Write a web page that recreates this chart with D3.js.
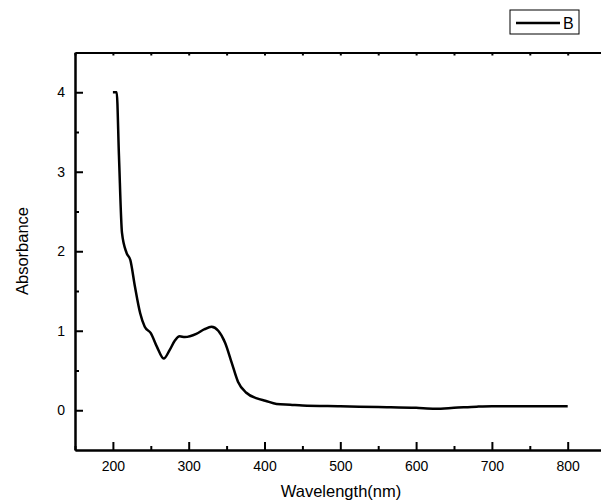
<!DOCTYPE html>
<html>
<head>
<meta charset="utf-8">
<script src="https://cdn.jsdelivr.net/npm/d3@7"></script>
<style>
  body { margin: 0; background: #fff; }
  text { font-family: "Liberation Sans", Arial, sans-serif; }
</style>
</head>
<body>
<svg id="vis1" width="601" height="503"></svg>
<script>
// spectrum
var wavelength = [200, 205, 208, 212, 218, 223, 229, 236, 242, 250, 258, 267, 275, 282, 288, 295, 310, 321, 330, 339, 348, 357, 365, 376, 390, 401, 416, 434, 450, 500, 550, 600, 625, 650, 680, 700, 750, 800];
var absorbance = [4.0, 4.0, 3.2, 2.23, 1.98, 1.89, 1.56, 1.22, 1.05, 0.97, 0.80, 0.65, 0.76, 0.88, 0.93, 0.92, 0.96, 1.02, 1.05, 1.00, 0.85, 0.59, 0.36, 0.22, 0.15, 0.12, 0.08, 0.07, 0.06, 0.05, 0.04, 0.03, 0.02, 0.03, 0.045, 0.05, 0.05, 0.05];

var xTicks = [200, 300, 400, 500, 600, 700, 800];
var xMinor = [150, 250, 350, 450, 550, 650, 750, 850];
var yTicks = [0, 1, 2, 3, 4];
var yMinor = [0.5, 1.5, 2.5, 3.5];
var seriesName = "B";

var svg = d3.select("#vis1");

var x = d3.scaleLinear().domain([150, 850]).range([75, 605.6]);
var y = d3.scaleLinear().domain([-0.5, 4.5]).range([450, 52.5]);

var data = wavelength.map(function(w, i) { return {w: w, a: absorbance[i]}; });

// bottom axis, ticks inward
var bottom = svg.append("g")
    .attr("transform", "translate(0," + y(-0.5) + ")")
    .call(d3.axisBottom(x).tickValues(xTicks).tickSize(-8).tickSizeOuter(0));
bottom.selectAll(".tick text").attr("dy", "0").attr("y", 21);
svg.append("g")
    .attr("transform", "translate(0," + y(-0.5) + ")")
    .call(d3.axisBottom(x).tickValues(xMinor).tickSize(-4).tickFormat("").tickSizeOuter(0));

// top axis, small ticks only
svg.append("g")
    .attr("transform", "translate(0," + y(4.5) + ")")
    .call(d3.axisTop(x).tickValues(xMinor.concat(xTicks)).tickSize(-3).tickFormat("").tickSizeOuter(0));

// left axis
svg.append("g")
    .attr("transform", "translate(" + x(150) + ",0)")
    .call(d3.axisLeft(y).tickValues(yTicks).tickFormat(d3.format("d")).tickSize(-8).tickPadding(10).tickSizeOuter(0));
svg.append("g")
    .attr("transform", "translate(" + x(150) + ",0)")
    .call(d3.axisLeft(y).tickValues(yMinor).tickSize(-4).tickFormat("").tickSizeOuter(0));

svg.selectAll(".domain").attr("stroke", "#000").attr("stroke-width", 2);
svg.selectAll(".tick line").attr("stroke", "#000").attr("stroke-width", 2);
svg.selectAll(".tick text")
    .attr("fill", "#000")
    .style("font-size", "14px")
    .style("font-family", "Liberation Sans, Arial, sans-serif");

// curve
svg.append("path")
    .datum(data)
    .attr("fill", "none")
    .attr("stroke", "#000")
    .attr("stroke-width", 2.5)
    .attr("stroke-linejoin", "round")
    .attr("d", d3.line()
        .x(function(d) { return x(d.w); })
        .y(function(d) { return y(d.a); })
        .curve(d3.curveMonotoneX));

// axis titles
svg.append("text")
    .attr("x", 341)
    .attr("y", 497)
    .attr("text-anchor", "middle")
    .style("font-size", "16.5px")
    .text("Wavelength(nm)");

svg.append("text")
    .attr("transform", "translate(28,251) rotate(-90)")
    .attr("text-anchor", "middle")
    .style("font-size", "16.5px")
    .text("Absorbance");

// legend
var legend = svg.append("g").attr("transform", "translate(510,10)");
legend.append("rect")
    .attr("width", 69)
    .attr("height", 24)
    .attr("fill", "#fff")
    .attr("stroke", "#000")
    .attr("stroke-width", 1);
legend.append("line")
    .attr("x1", 6).attr("x2", 50)
    .attr("y1", 13).attr("y2", 13)
    .attr("stroke", "#000")
    .attr("stroke-width", 2.5);
legend.append("text")
    .attr("x", 53)
    .attr("y", 19)
    .style("font-size", "16px")
    .text(seriesName);
</script>
</body>
</html>
